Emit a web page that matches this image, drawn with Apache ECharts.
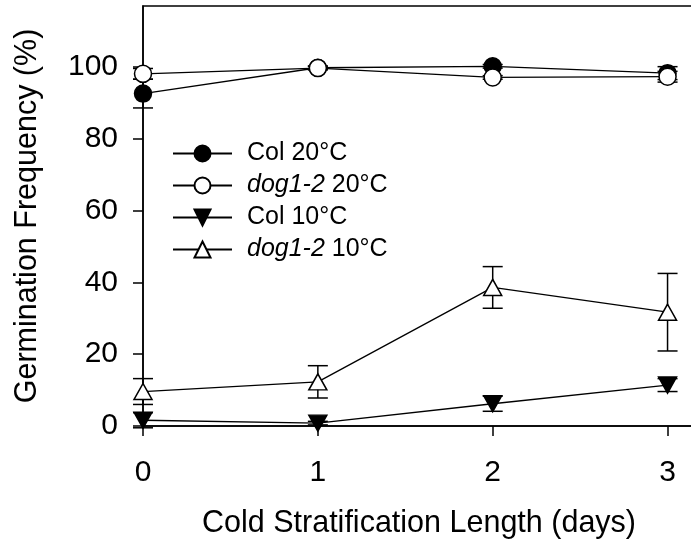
<!DOCTYPE html>
<html>
<head>
<meta charset="utf-8">
<script src="https://cdn.jsdelivr.net/npm/echarts@6/dist/echarts.min.js"></script>
<style>
  html, body { margin: 0; padding: 0; background: #fff; }
  #chart { width: 691px; height: 546px; }
</style>
</head>
<body>
<div id="chart"></div>
<script>
// Days of cold stratification
const days = [0, 1, 2, 3];

// Germination frequency (%) and standard errors
const col20 = [92.6, 99.8, 100.2, 98.3];
const col20Err = [4.0, 0.5, 0.5, 1.8];
const dog20 = [98.1, 99.7, 97.1, 97.3];
const dog20Err = [1.5, 0.5, 0.5, 1.5];
const col10 = [1.6, 0.8, 6.2, 11.4];
const col10Err = [2.1, 0.5, 2.1, 1.8];
const dog10 = [9.6, 12.3, 38.6, 31.7];
const dog10Err = [3.6, 4.5, 5.8, 10.8];

const yTicks = [0, 20, 40, 60, 80, 100];
const xTicks = [0, 1, 2, 3];

const FONT = 'Liberation Sans';

function pts(vals) { return days.map((d, i) => [d, vals[i]]); }
function errPts(vals, errs) { return days.map((d, i) => [d, vals[i] - errs[i], vals[i] + errs[i]]); }

function errorBarSeries(vals, errs, z) {
  return {
    type: 'custom',
    z: z,
    silent: true,
    clip: false,
    data: errPts(vals, errs),
    encode: { x: 0, y: [1, 2] },
    renderItem: function (params, api) {
      const x = api.value(0);
      const lo = api.coord([x, api.value(1)]);
      const hi = api.coord([x, api.value(2)]);
      const half = 10;
      const style = { stroke: '#000', lineWidth: 1.5 };
      return {
        type: 'group',
        children: [
          { type: 'line', shape: { x1: lo[0], y1: lo[1], x2: hi[0], y2: hi[1] }, style: style },
          { type: 'line', shape: { x1: lo[0] - half, y1: lo[1], x2: lo[0] + half, y2: lo[1] }, style: style },
          { type: 'line', shape: { x1: hi[0] - half, y1: hi[1], x2: hi[0] + half, y2: hi[1] }, style: style }
        ]
      };
    }
  };
}

function lineSeries(name, vals, symbol, size, fill, rotate, z) {
  return {
    name: name,
    type: 'line',
    z: z,
    data: pts(vals),
    symbol: symbol,
    symbolSize: size,
    symbolRotate: rotate,
    showAllSymbol: true,
    clip: false,
    lineStyle: { color: '#000', width: 1.3 },
    itemStyle: { color: fill, borderColor: '#000', borderWidth: 1.5 },
    emphasis: { disabled: true }
  };
}

const chart = echarts.init(document.getElementById('chart'), null, { renderer: 'canvas' });

chart.setOption({
  backgroundColor: '#fff',
  animation: false,
  grid: {
    left: 143, right: -4, top: 6, bottom: 120,
    outerBoundsMode: 'none',
    containLabel: false,
    show: true, borderColor: '#000', borderWidth: 1.5, backgroundColor: 'transparent'
  },
  legend: {
    left: 167, top: 136,
    orient: 'vertical',
    itemWidth: 59, itemHeight: 20, itemGap: 7,
    data: ['Col 20°C', 'dog1-2 20°C', 'Col 10°C', 'dog1-2 10°C'],
    formatter: function (name) {
      if (name.indexOf('dog1-2') === 0) {
        return '{i|dog1-2}{n|' + name.slice(6) + '}';
      }
      return '{n|' + name + '}';
    },
    textStyle: {
      fontFamily: FONT, fontSize: 25, color: '#000', padding: [0, 0, 0, 10],
      rich: {
        i: { fontFamily: FONT, fontSize: 25, lineHeight: 28, fontStyle: 'italic', color: '#000' },
        n: { fontFamily: FONT, fontSize: 25, lineHeight: 28, color: '#000' }
      }
    }
  },
  xAxis: {
    type: 'value',
    min: 0, max: 3.157,
    name: 'Cold Stratification Length (days)',
    nameLocation: 'middle',
    nameGap: 82,
    nameTextStyle: { fontFamily: FONT, fontSize: 30.5, color: '#000' },
    splitLine: { show: false },
    axisLine: { show: true, onZero: false, lineStyle: { color: '#000', width: 1.5 } },
    axisTick: { show: true, inside: false, length: 10, customValues: xTicks, lineStyle: { color: '#000', width: 1.5 } },
    axisLabel: { customValues: xTicks, margin: 32, fontFamily: FONT, fontSize: 30, color: '#000' }
  },
  yAxis: {
    type: 'value',
    min: 0, max: 117,
    name: 'Germination Frequency (%)',
    nameLocation: 'middle',
    nameGap: 100,
    nameTextStyle: { fontFamily: FONT, fontSize: 30.5, color: '#000' },
    splitLine: { show: false },
    axisLine: { show: true, onZero: false, lineStyle: { color: '#000', width: 1.5 } },
    axisTick: { show: true, inside: false, length: 10, customValues: yTicks, lineStyle: { color: '#000', width: 1.5 } },
    axisLabel: { customValues: yTicks, margin: 25, fontFamily: FONT, fontSize: 30, color: '#000' }
  },
  series: [
    errorBarSeries(col20, col20Err, 1),
    errorBarSeries(dog20, dog20Err, 1),
    errorBarSeries(col10, col10Err, 1),
    errorBarSeries(dog10, dog10Err, 1),
    lineSeries('Col 20°C', col20, 'circle', 17, '#000', 0, 3),
    lineSeries('dog1-2 20°C', dog20, 'circle', 17, '#fff', 0, 4),
    lineSeries('Col 10°C', col10, 'triangle', [18, 16], '#000', 180, 3),
    lineSeries('dog1-2 10°C', dog10, 'triangle', [18, 16], '#fff', 0, 4)
  ]
});
</script>
</body>
</html>
